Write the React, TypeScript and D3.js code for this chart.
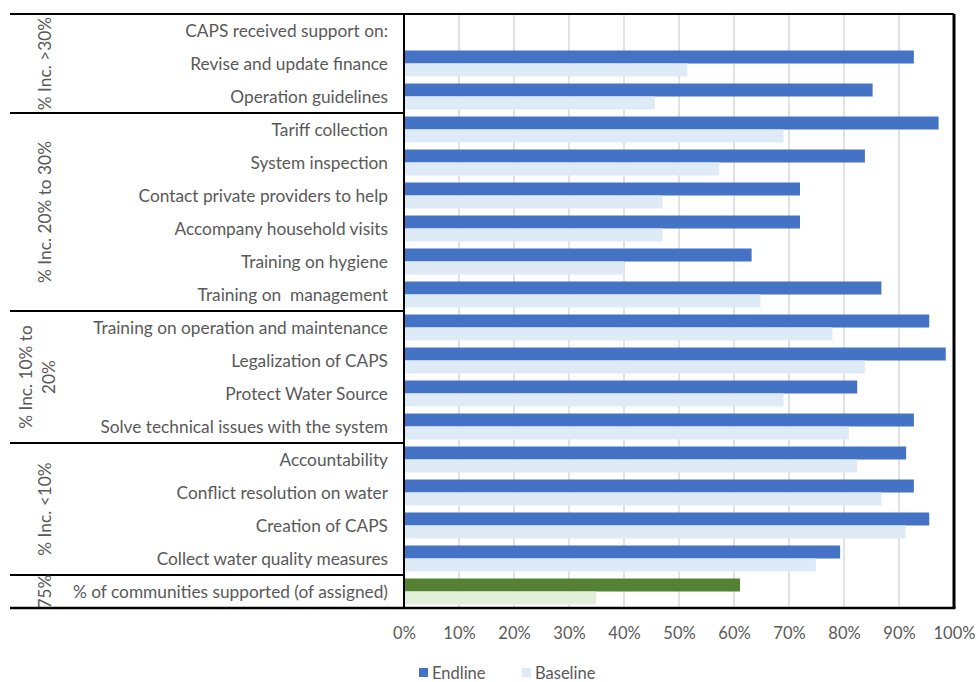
import React, { useEffect, useRef } from 'react';
import * as d3 from 'd3';

// rows, top to bottom (first row is a header with no bars)
const categories = [
  'CAPS received support on:',
  'Revise and update finance',
  'Operation guidelines',
  'Tariff collection',
  'System inspection',
  'Contact private providers to help',
  'Accompany household visits',
  'Training on hygiene',
  'Training on  management',
  'Training on operation and maintenance',
  'Legalization of CAPS',
  'Protect Water Source',
  'Solve technical issues with the system',
  'Accountability',
  'Conflict resolution on water',
  'Creation of CAPS',
  'Collect water quality measures',
  '% of communities supported (of assigned)',
];
const endline = [null, 0.927, 0.852, 0.972, 0.838, 0.72, 0.72, 0.632, 0.868, 0.955, 0.985, 0.824, 0.927, 0.913, 0.927, 0.955, 0.793, 0.611];
const baseline = [null, 0.515, 0.456, 0.69, 0.573, 0.47, 0.47, 0.4, 0.648, 0.779, 0.838, 0.69, 0.809, 0.824, 0.868, 0.912, 0.749, 0.349];

// group labels on the left and how many rows each spans
const groupLabels = [['% Inc. >30%'], ['% Inc. 20% to 30%'], ['% Inc. 10% to', '20%'], ['% Inc. <10%'], ['75%']];
const groupSizes = [3, 6, 4, 4, 1];

const xTicks = [0, 0.1, 0.2, 0.3, 0.4, 0.5, 0.6, 0.7, 0.8, 0.9, 1];
const seriesNames = ['Endline', 'Baseline'];

const W = 978, H = 682;
const box = { left: 10, mid: 404, right: 954, top: 14, bottom: 608 };
const font = 'Lato, "Open Sans", sans-serif';
const textColor = '#595959';

function App() {
  const ref = useRef<SVGSVGElement>(null);

  useEffect(() => {
    const svg = d3.select(ref.current);
    svg.selectAll('*').remove();

    const x = d3.scaleLinear().domain([0, 1]).range([box.mid, box.right]);
    const y = d3.scaleBand<string>().domain(categories).range([box.top, box.bottom]).padding(0);
    const sub = d3.scaleBand<string>().domain(seriesNames).range([0, y.bandwidth()]).paddingInner(0).paddingOuter(0.27);

    // gridlines
    svg.append('g')
      .selectAll('line')
      .data(xTicks.slice(1, -1))
      .join('line')
      .attr('x1', d => x(d)).attr('x2', d => x(d))
      .attr('y1', box.top).attr('y2', box.bottom)
      .attr('stroke', '#d9d9d9').attr('stroke-width', 1.5);

    const rows = categories.map((c, i) => ({ c, i, e: endline[i], b: baseline[i] })).filter(d => d.e != null);
    const last = categories.length - 1;

    svg.append('g').selectAll('rect.end')
      .data(rows)
      .join('rect')
      .attr('class', 'end')
      .attr('x', x(0))
      .attr('y', d => (y(d.c) as number) + (sub('Endline') as number))
      .attr('width', d => x(d.e as number) - x(0))
      .attr('height', sub.bandwidth())
      .attr('fill', d => (d.i === last ? '#548235' : '#4472c4'));

    svg.append('g').selectAll('rect.base')
      .data(rows)
      .join('rect')
      .attr('class', 'base')
      .attr('x', x(0))
      .attr('y', d => (y(d.c) as number) + (sub('Baseline') as number))
      .attr('width', d => x(d.b as number) - x(0))
      .attr('height', sub.bandwidth())
      .attr('fill', d => (d.i === last ? '#e2efda' : '#deebf7'));

    // category labels
    svg.append('g').selectAll('text')
      .data(categories)
      .join('text')
      .attr('x', box.mid - 16)
      .attr('y', d => (y(d) as number) + y.bandwidth() / 2)
      .attr('dy', '0.35em')
      .attr('text-anchor', 'end')
      .attr('font-family', font)
      .attr('font-size', 17.3)
      .attr('fill', textColor)
      .style('white-space', 'pre')
      .text(d => d);

    // group labels and separators
    let start = 0;
    const defs = svg.append('defs');
    const gGroups = svg.append('g');
    groupSizes.forEach((n, gi) => {
      const y0 = y(categories[start]) as number;
      const y1 = y0 + n * y.step();
      const cy = (y0 + y1) / 2;
      defs.append('clipPath').attr('id', 'grp' + gi)
        .append('rect').attr('x', box.left).attr('y', y0).attr('width', box.mid - box.left).attr('height', y1 - y0);
      const lines = groupLabels[gi];
      const cx = lines.length > 1 ? 26 : 45;
      const t = gGroups.append('g')
        .attr('clip-path', `url(#grp${gi})`)
        .append('text')
        .attr('transform', `translate(${cx},${cy}) rotate(-90)`)
        .attr('font-family', font)
        .attr('font-size', 17.3)
        .attr('fill', textColor)
        .attr('text-anchor', 'middle');
      lines.forEach((l, li) => {
        t.append('tspan')
          .attr('x', 0).attr('y', 0)
          .attr('dy', `${0.35 + li * 1.3}em`)
          .text(l);
      });
      start += n;
      if (gi < groupSizes.length - 1) {
        gGroups.append('line')
          .attr('x1', box.left).attr('x2', box.mid)
          .attr('y1', y1).attr('y2', y1)
          .attr('stroke', '#000').attr('stroke-width', 2);
      }
    });

    // frame
    const frame = svg.append('g').attr('stroke', '#000').attr('fill', 'none');
    frame.append('line').attr('x1', box.left).attr('x2', box.right).attr('y1', box.top).attr('y2', box.top).attr('stroke-width', 2);
    frame.append('line').attr('x1', box.left).attr('x2', box.right + 1.5).attr('y1', box.bottom).attr('y2', box.bottom).attr('stroke-width', 2.5);
    frame.append('line').attr('x1', box.mid).attr('x2', box.mid).attr('y1', box.top).attr('y2', box.bottom).attr('stroke-width', 2);
    frame.append('line').attr('x1', box.right).attr('x2', box.right).attr('y1', box.top).attr('y2', box.bottom).attr('stroke-width', 3);

    // x axis
    const xAxis = svg.append('g').attr('transform', `translate(0,${box.bottom + 25})`)
      .call(d3.axisBottom(x).tickValues(xTicks).tickFormat(d3.format('.0%')).tickSize(0))
      .call(g => g.select('.domain').remove());
    xAxis.selectAll('text')
      .attr('font-family', font)
      .attr('font-size', 16.5)
      .attr('fill', textColor)
      .attr('dy', '0.35em')
      .attr('y', 0);

    // legend
    const legend = svg.append('g').attr('transform', `translate(419,${673})`);
    const colors = ['#4472c4', '#deebf7'];
    const offsets = [0, 103];
    seriesNames.forEach((s, i) => {
      legend.append('rect').attr('x', offsets[i]).attr('y', -5).attr('width', 9).attr('height', 9).attr('fill', colors[i]);
      legend.append('text').attr('x', offsets[i] + 13).attr('y', 0).attr('dy', '0.35em')
        .attr('font-family', font).attr('font-size', 16.5).attr('fill', textColor).text(s);
    });
  }, []);

  return (
    <svg ref={ref} width={W} height={H} style={{ position: 'absolute', left: 0, top: 0, background: '#fff' }} />
  );
}

export default App;
